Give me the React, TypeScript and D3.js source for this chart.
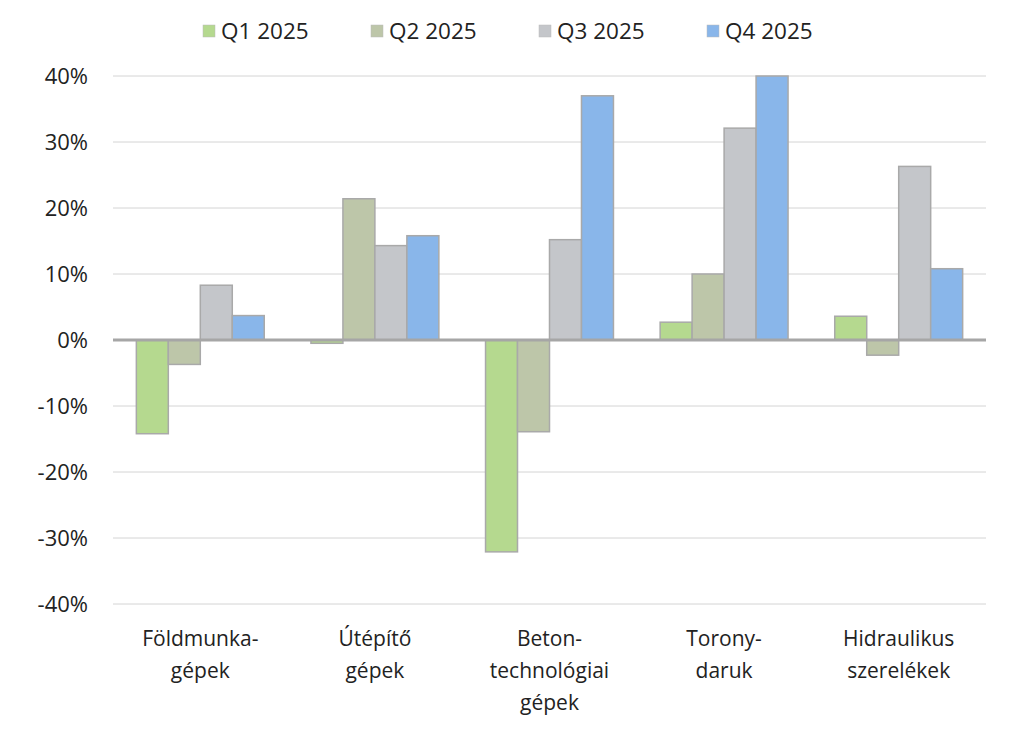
import React from 'react';
import * as d3 from 'd3';

const categories = [
  ['Földmunka-', 'gépek'],
  ['Útépítő', 'gépek'],
  ['Beton-', 'technológiai', 'gépek'],
  ['Torony-', 'daruk'],
  ['Hidraulikus', 'szerelékek'],
];
const seriesNames = ['Q1 2025', 'Q2 2025', 'Q3 2025', 'Q4 2025'];
const seriesColors = ['#b5d98f', '#bdc6a9', '#c4c6ca', '#89b6ea'];

const q1 = [-14.2, -0.5, -32.1, 2.7, 3.6];
const q2 = [-3.7, 21.4, -13.9, 10.0, -2.3];
const q3 = [8.3, 14.3, 15.2, 32.1, 26.3];
const q4 = [3.7, 15.8, 37.0, 40.0, 10.8];
const seriesValues = [q1, q2, q3, q4];

const yTicks = [40, 30, 20, 10, 0, -10, -20, -30, -40];

const W = 1024;
const H = 733;
const FONT = '"Open Sans", sans-serif';

export default function App() {
  const keys = categories.map((c) => c.join(' '));
  const x0 = d3.scaleBand<string>().domain(keys).range([113, 986]).padding(0);
  const x1 = d3
    .scaleBand<string>()
    .domain(seriesNames)
    .range([0, x0.bandwidth()])
    .paddingInner(0)
    .paddingOuter(0.73);
  const y = d3.scaleLinear().domain([-40, 40]).range([604, 76]);

  return (
    <svg
      width={W}
      height={H}
      style={{ position: 'absolute', left: 0, top: 0, background: '#fff' }}
      fontFamily={FONT}
    >
      {/* gridlines */}
      {yTicks.map((t) => (
        <line
          key={t}
          x1={113}
          x2={986}
          y1={y(t)}
          y2={y(t)}
          stroke="#d4d4d4"
          strokeWidth={1}
        />
      ))}
      {/* tick labels */}
      {yTicks.map((t) => (
        <text
          key={'l' + t}
          x={88}
          y={y(t)}
          dy="0.36em"
          textAnchor="end"
          fontSize={22}
          fill="#222"
        >
          {t}%
        </text>
      ))}
      {/* bars */}
      {seriesValues.map((vals, si) =>
        vals.map((v, ci) => {
          const bx = (x0(keys[ci]) ?? 0) + (x1(seriesNames[si]) ?? 0);
          const top = y(Math.max(0, v));
          const h = Math.abs(y(v) - y(0));
          return (
            <rect
              key={si + '-' + ci}
              x={bx}
              y={top}
              width={x1.bandwidth()}
              height={h}
              fill={seriesColors[si]}
              stroke="#a9a9a9"
              strokeWidth={1.5}
            />
          );
        })
      )}
      {/* zero line */}
      <line x1={113} x2={986} y1={y(0)} y2={y(0)} stroke="#a6a6a6" strokeWidth={3} />
      {/* category labels */}
      {categories.map((lines, ci) => {
        const cx = (x0(keys[ci]) ?? 0) + x0.bandwidth() / 2;
        return (
          <text key={'c' + ci} textAnchor="middle" fontSize={21} fill="#222">
            {lines.map((ln, li) => (
              <tspan key={li} x={cx} y={638 + li * 32} dy="0.36em">
                {ln}
              </tspan>
            ))}
          </text>
        );
      })}
      {/* legend */}
      {seriesNames.map((s, si) => {
        const lx = 203 + si * 168;
        return (
          <g key={'lg' + s}>
            <rect x={lx} y={25} width={12} height={12} fill={seriesColors[si]} stroke="#bbb" strokeWidth={0.5} />
            <text x={lx + 18} y={31} dy="0.36em" fontSize={22.5} fill="#222">
              {s}
            </text>
          </g>
        );
      })}
    </svg>
  );
}
